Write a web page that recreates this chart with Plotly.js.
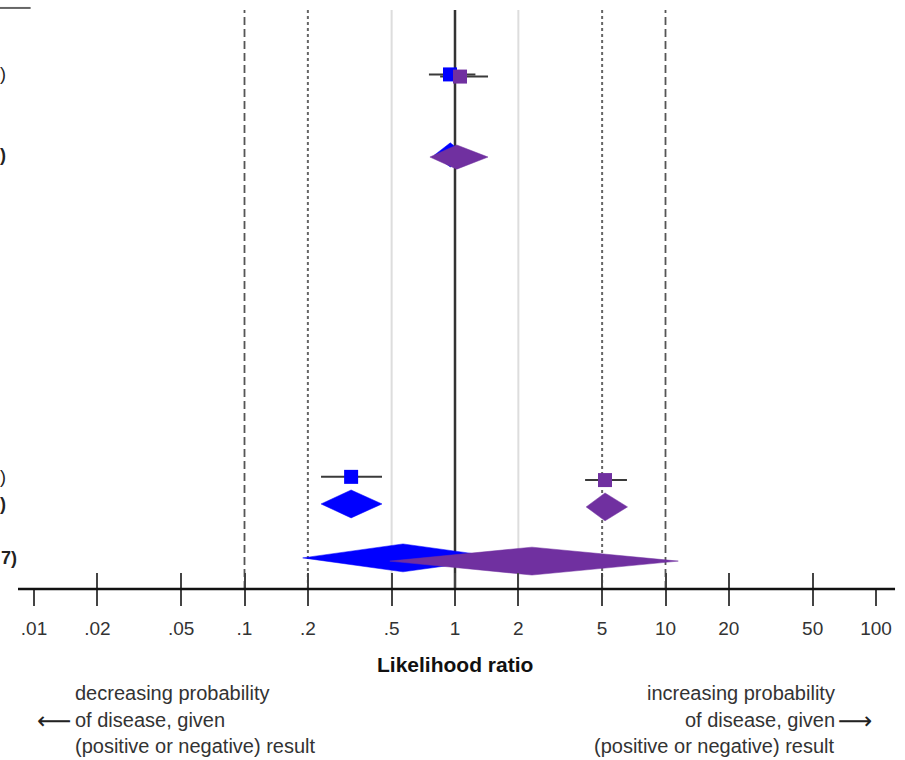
<!DOCTYPE html>
<html>
<head>
<meta charset="utf-8">
<script src="https://cdn.plot.ly/plotly-3.0.1.min.js"></script>
<style>html,body{margin:0;padding:0;background:#fff;}#chart{width:905px;height:760px;}</style>
</head>
<body>
<div id="chart"></div>
<script>
// ---- data ----
const rowLabels = [")", ")", ")", ")", "7)"];
const rowLabelBold = [false, true, false, true, true];
const rowLabelRight = [8, 8, 8, 8, 19];

// row kinds: square = study estimate with CI, diamond = pooled estimate
const rowKinds = ["square", "diamond", "square", "diamond", "diamond"];

const blueY   = [1.98, 4.98, 16.98, 17.99, 20.0];
const blueEst = [0.947, 0.95, 0.321, 0.321, 0.566];
const blueLo  = [0.752, 0.80, 0.231, 0.231, 0.189];
const blueHi  = [1.25, 1.12, 0.45, 0.45, 1.71];

const purpleY   = [2.06, 5.06, 17.10, 18.10, 20.12];
const purpleEst = [1.056, 1.02, 5.16, 5.16, 2.32];
const purpleLo  = [0.85, 0.76, 4.15, 4.2, 0.49];
const purpleHi  = [1.435, 1.435, 6.56, 6.6, 11.5];

const tickVals = [0.01, 0.02, 0.05, 0.1, 0.2, 0.5, 1, 2, 5, 10, 20, 50, 100];
const tickText = [".01", ".02", ".05", ".1", ".2", ".5", "1", "2", "5", "10", "20", "50", "100"];

const refLines = [
  {x: 0.1, color: "#555", dash: "8px,4px", width: 1.8},
  {x: 10, color: "#555", dash: "8px,4px", width: 1.8},
  {x: 0.2, color: "#666", dash: "3px,3px", width: 2},
  {x: 5, color: "#666", dash: "3px,3px", width: 2},
  {x: 0.5, color: "#ddd", dash: "solid", width: 2},
  {x: 2, color: "#ddd", dash: "solid", width: 2},
  {x: 1, color: "#333", dash: "solid", width: 2.5}
];

const BLUE = "#0000ff";
const PURPLE = "#7030a0";
const FONT = "Liberation Sans, Arial, sans-serif";

// ---- traces ----
const traces = [];
function addSeries(ys, est, lo, hi, color, pass) {
  for (let i = 0; i < ys.length; i++) {
    if (rowKinds[i] === "square") {
      if (pass === "ci") {
        traces.push({type: "scatter", mode: "lines", x: [lo[i], hi[i]], y: [ys[i], ys[i]],
          line: {color: "#3a3a3a", width: 2}, hoverinfo: "skip", showlegend: false});
      } else if (pass === "mark") {
        traces.push({type: "scatter", mode: "markers", x: [est[i]], y: [ys[i]],
          marker: {symbol: "square", size: 14, color: color, line: {width: 0}},
          showlegend: false});
      }
    } else if (pass === "mark") {
      const h = i === 1 ? 0.45 : 0.52;
      traces.push({type: "scatter", mode: "lines", fill: "toself", fillcolor: color,
        x: [lo[i], est[i], hi[i], est[i], lo[i]],
        y: [ys[i], ys[i] - h, ys[i], ys[i] + h, ys[i]],
        line: {color: color, width: 0.5}, hoverinfo: "skip", showlegend: false});
    }
  }
}
addSeries(blueY, blueEst, blueLo, blueHi, BLUE, "ci");
addSeries(purpleY, purpleEst, purpleLo, purpleHi, PURPLE, "ci");
addSeries(blueY, blueEst, blueLo, blueHi, BLUE, "mark");
addSeries(purpleY, purpleEst, purpleLo, purpleHi, PURPLE, "mark");

// ---- shapes ----
const shapes = refLines.map(r => ({
  type: "line", xref: "x", yref: "paper", x0: r.x, x1: r.x, y0: 0, y1: 0.983,
  line: {color: r.color, width: r.width, dash: r.dash}, layer: "below"
}));
shapes.push({type: "line", xref: "paper", yref: "paper", x0: -0.019, x1: 1.0226, y0: 0, y1: 0,
  line: {color: "#111", width: 2.5}});
shapes.push({type: "line", xref: "paper", yref: "paper", x0: -0.041, x1: -0.004, y0: 0.9865, y1: 0.9865,
  line: {color: "#666", width: 2}});

// ---- annotations ----
const annotations = [];
rowLabels.forEach((t, i) => {
  annotations.push({xref: "paper", yref: "y", x: 0, y: blueY[i], xanchor: "right", yanchor: "middle",
    xshift: rowLabelRight[i] - 34, showarrow: false,
    text: rowLabelBold[i] ? "<b>" + t + "</b>" : t,
    font: {family: FONT, size: 18, color: "#222"}});
});
annotations.push({xref: "paper", yref: "paper", x: 0.5, y: -0.129, xanchor: "center", yanchor: "middle",
  showarrow: false, text: "<b>Likelihood ratio</b>", font: {family: FONT, size: 21, color: "#111"}});

const noteFont = {family: FONT, size: 20, color: "#333"};
const leftLines = ["decreasing probability", "of disease, given", "(positive or negative) result"];
const rightLines = ["increasing probability", "of disease, given", "(positive or negative) result"];
const lineYs = [693, 720, 746];
lineYs.forEach((py, i) => {
  const yp = (589 - py) / 589;
  annotations.push({xref: "paper", yref: "paper", x: (73 - 34) / 842, y: yp, xanchor: "left", yanchor: "middle",
    showarrow: false, text: leftLines[i], font: noteFont});
  annotations.push({xref: "paper", yref: "paper", x: (837 - 34) / 842, y: yp, xanchor: "right", yanchor: "middle",
    showarrow: false, text: rightLines[i], font: noteFont});
});
annotations.push({xref: "paper", yref: "paper", x: (73 - 34) / 842, y: (589 - 721) / 589, xanchor: "right", yanchor: "middle",
  showarrow: false, text: "⟵", font: {family: "DejaVu Sans", size: 24, color: "#222"}});
annotations.push({xref: "paper", yref: "paper", x: (836 - 34) / 842, y: (589 - 721) / 589, xanchor: "left", yanchor: "middle",
  showarrow: false, text: "⟶", font: {family: "DejaVu Sans", size: 24, color: "#222"}});

// ---- layout ----
const axisCommon = {
  type: "log", range: [-2, 2], tickvals: tickVals, showgrid: false, zeroline: false,
  showline: false, ticklen: 16, tickwidth: 2, tickcolor: "#444", fixedrange: true
};
const layout = {
  width: 905, height: 760,
  margin: {l: 34, r: 29, t: 0, b: 171},
  paper_bgcolor: "#fff", plot_bgcolor: "#fff",
  showlegend: false,
  xaxis: Object.assign({}, axisCommon, {
    ticks: "outside", ticktext: tickText, ticklabelstandoff: 6,
    tickfont: {family: FONT, size: 19, color: "#333"}, anchor: "y"
  }),
  xaxis2: Object.assign({}, axisCommon, {
    ticks: "inside", showticklabels: false, overlaying: "x", side: "bottom", anchor: "y"
  }),
  yaxis: {range: [21.16, -0.794], visible: false, showgrid: false, zeroline: false, fixedrange: true},
  shapes: shapes,
  annotations: annotations
};
// a dummy trace to activate xaxis2
traces.push({type: "scatter", mode: "markers", x: [1], y: [-5], xaxis: "x2", yaxis: "y",
  marker: {opacity: 0}, hoverinfo: "skip", showlegend: false});

Plotly.newPlot("chart", traces, layout, {displayModeBar: false, staticPlot: true});
</script>
</body>
</html>
